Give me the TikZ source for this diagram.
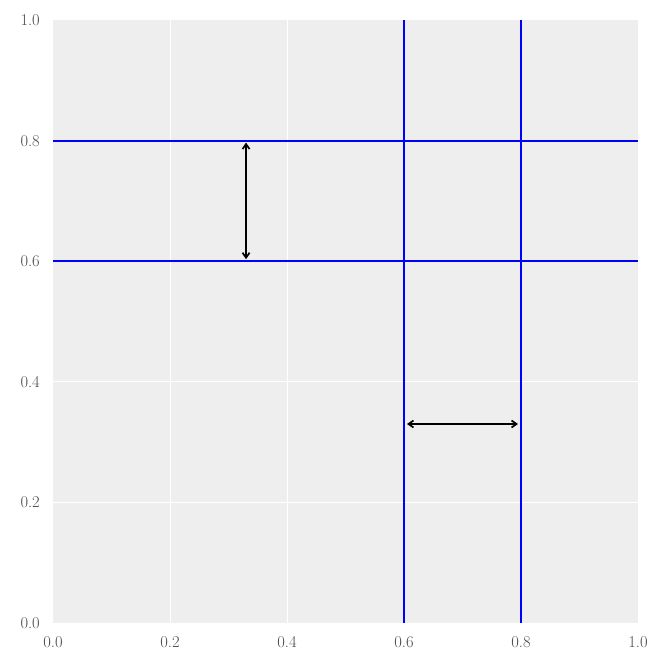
\documentclass[tikz,border=0pt]{standalone}
\usepackage{fontspec}
\usetikzlibrary{arrows.meta}
\definecolor{bgax}{HTML}{EEEEEE}
\definecolor{ticktext}{HTML}{4A4A4A}
\begin{document}
\begin{tikzpicture}[x=585pt,y=603pt,
  ticklab/.style={text=ticktext,font=\fontsize{16.5}{19}\selectfont,inner sep=0pt},
  gridline/.style={white,line width=0.8pt},
  blueline/.style={blue,line width=2pt},
  dimarrow/.style={black,line width=1.7pt,{Straight Barb[length=5pt,width=7pt]}-{Straight Barb[length=5pt,width=7pt]}}]
\useasboundingbox (-53pt,-48pt) rectangle (616pt,623pt);
\fill[bgax] (0,0) rectangle (1,1);
\foreach \v in {0.2,0.4,0.6,0.8}{
  \draw[gridline] (\v,0) -- (\v,1);
  \draw[gridline] (0,\v) -- (1,\v);
}
\foreach \v/\n in {0.0/a,0.2/b,0.4/c,0.6/d,0.8/e,1.0/f}{
  \node[ticklab,anchor=base] (xt\n) at ([yshift=-25pt]\v,0) {\v};
  \node[ticklab,anchor=base east] (yt\n) at ([xshift=-13pt,yshift=-5.5pt]0,\v) {\v};
}
\coordinate (h1l) at (0,0.8); \coordinate (h1r) at (1,0.8);
\coordinate (h2l) at (0,0.6); \coordinate (h2r) at (1,0.6);
\coordinate (v1b) at (0.6,0); \coordinate (v1t) at (0.6,1);
\coordinate (v2b) at (0.8,0); \coordinate (v2t) at (0.8,1);
\draw[blueline] (h1l) -- (h1r);
\draw[blueline] (h2l) -- (h2r);
\draw[blueline] (v1b) -- (v1t);
\draw[blueline] (v2b) -- (v2t);
\coordinate (aT) at (0.33,0.8); \coordinate (aB) at (0.33,0.6);
\coordinate (bL) at (0.6,0.33); \coordinate (bR) at (0.8,0.33);
\draw[dimarrow,shorten <=2pt,shorten >=2pt] (aT) -- (aB);
\draw[dimarrow,shorten <=3pt,shorten >=3pt] (bL) -- (bR);
\end{tikzpicture}
\end{document}
